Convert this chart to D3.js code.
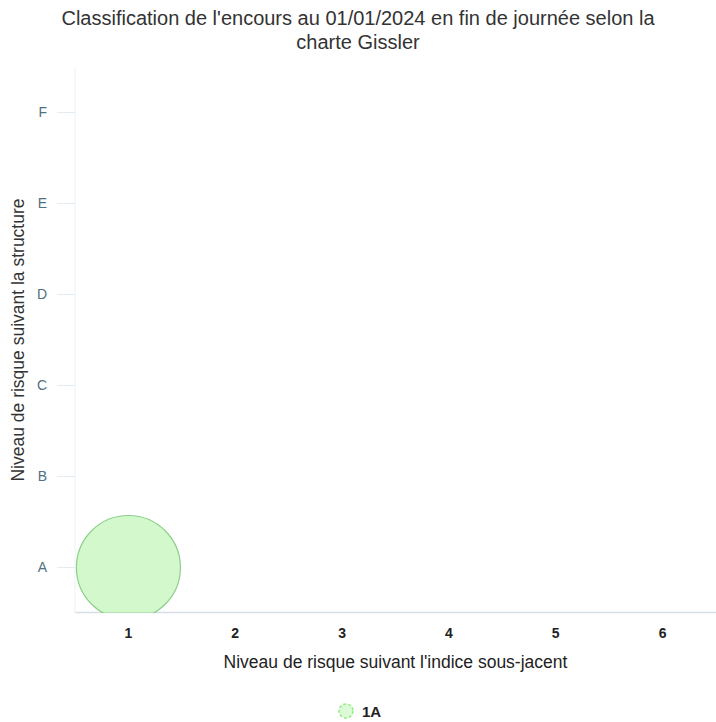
<!DOCTYPE html>
<html>
<head>
<meta charset="utf-8">
<script src="https://cdn.jsdelivr.net/npm/d3@7"></script>
<style>
  html, body { margin: 0; padding: 0; background: #fff; }
  svg { display: block; font-family: "Liberation Sans", Arial, sans-serif; }
</style>
</head>
<body>
<svg id="chart" width="716" height="722"></svg>
<script>
// Risk grid categories (Gissler charter)
const xCategories = ["1", "2", "3", "4", "5", "6"];
const yCategories = ["A", "B", "C", "D", "E", "F"];

// Bubble series: position on the grid and outstanding amount (bubble size)
const seriesName = "1A";
const pointX = ["1"];
const pointY = ["A"];
const pointZ = [100];

const titleLines = [
  "Classification de l'encours au 01/01/2024 en fin de journée selon la",
  "charte Gissler"
];
const xTitle = "Niveau de risque suivant l'indice sous-jacent";
const yTitle = "Niveau de risque suivant la structure";

const W = 716, H = 722;
const plot = { left: 75, right: 716, top: 67, bottom: 613 };

const svg = d3.select("#chart");

const x = d3.scaleBand().domain(xCategories).range([plot.left, plot.right]);
const y = d3.scaleBand().domain(yCategories).range([plot.bottom, plot.top]);
const r = d3.scaleSqrt().domain([0, d3.max(pointZ)]).range([0, 52]);

// Title
svg.append("text")
  .attr("x", W / 2).attr("y", 25)
  .attr("text-anchor", "middle")
  .attr("font-size", 20).attr("fill", "#333")
  .selectAll("tspan").data(titleLines).join("tspan")
  .attr("x", W / 2).attr("dy", (d, i) => i ? 24 : 0)
  .text(d => d);

// Clip path for the plotting area
svg.append("defs").append("clipPath").attr("id", "plotClip")
  .append("rect")
  .attr("x", plot.left).attr("y", plot.top)
  .attr("width", plot.right - plot.left).attr("height", plot.bottom - plot.top);

// Left plot border
svg.append("line")
  .attr("x1", plot.left).attr("x2", plot.left)
  .attr("y1", plot.top).attr("y2", plot.bottom)
  .attr("stroke", "#eef1f5").attr("stroke-width", 1);

// Y axis (categories A..F) with short ticks
const yAxis = svg.append("g")
  .attr("transform", `translate(${plot.left},0)`)
  .call(d3.axisLeft(y).tickSize(18).tickPadding(10));
yAxis.select(".domain").remove();
yAxis.selectAll(".tick line").attr("stroke", "#e3ecf3");
yAxis.selectAll(".tick text")
  .attr("font-size", 14).attr("fill", "#52707e")
  .attr("font-family", "Liberation Sans, Arial, sans-serif");

// X axis (categories 1..6)
const xAxis = svg.append("g")
  .attr("transform", `translate(0,${plot.bottom - 1})`)
  .call(d3.axisBottom(x).tickSize(0).tickPadding(16));
xAxis.select(".domain").attr("stroke", "#d8dee6").attr("stroke-width", 1.5);
xAxis.selectAll(".tick text")
  .attr("font-size", 14).attr("font-weight", "bold").attr("fill", "#222")
  .attr("font-family", "Liberation Sans, Arial, sans-serif");

// Axis titles
svg.append("text")
  .attr("x", (plot.left + plot.right) / 2).attr("y", 668)
  .attr("text-anchor", "middle")
  .attr("font-size", 17.5).attr("fill", "#222")
  .text(xTitle);

svg.append("text")
  .attr("transform", `translate(24,${(plot.top + plot.bottom) / 2}) rotate(-90)`)
  .attr("text-anchor", "middle")
  .attr("font-size", 17.5).attr("fill", "#333")
  .text(yTitle);

// Bubbles
const points = pointX.map((d, i) => ({ x: d, y: pointY[i], z: pointZ[i] }));
svg.append("g").attr("clip-path", "url(#plotClip)")
  .selectAll("circle").data(points).join("circle")
  .attr("cx", d => x(d.x) + x.bandwidth() / 2)
  .attr("cy", d => y(d.y) + y.bandwidth() / 2)
  .attr("r", d => r(d.z))
  .attr("fill", "#90ed7d").attr("fill-opacity", 0.4)
  .attr("stroke", "#8ccf8a").attr("stroke-width", 1.2);

// Legend
const legend = svg.append("g").attr("transform", "translate(346,711)");
legend.append("circle")
  .attr("r", 7)
  .attr("fill", "#90ed7d").attr("fill-opacity", 0.3)
  .attr("stroke", "#90ed7d").attr("stroke-width", 1.5)
  .attr("stroke-dasharray", "3,2");
legend.append("text")
  .attr("x", 16).attr("y", 6)
  .attr("font-size", 15).attr("font-weight", "bold").attr("fill", "#222")
  .text(seriesName);
</script>
</body>
</html>
